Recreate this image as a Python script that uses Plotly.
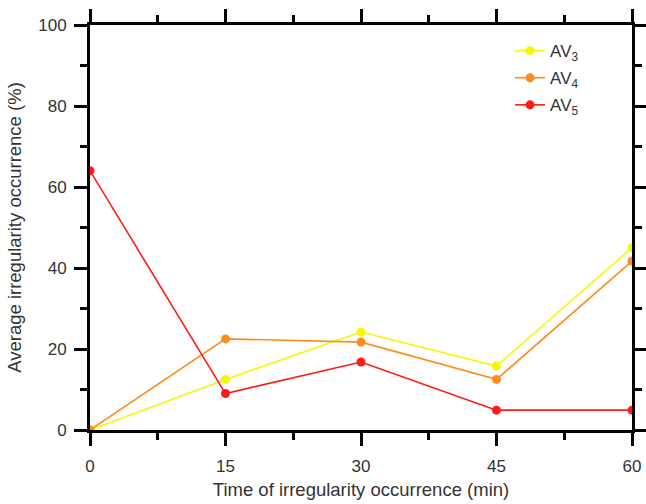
import plotly.graph_objects as go

time_min = [0, 15, 30, 45, 60]
av3 = [0, 12.5, 24.2, 15.8, 45.0]
av4 = [0, 22.5, 21.7, 12.5, 41.7]
av5 = [64.0, 9.0, 16.8, 4.9, 4.9]

series = [
    ("AV<sub>3</sub>", av3, "#F7F700"),
    ("AV<sub>4</sub>", av4, "#FF8C1F"),
    ("AV<sub>5</sub>", av5, "#FF1A1A"),
]

FONT = "Liberation Sans, Arial, sans-serif"

fig = go.Figure()
for name, vals, col in series:
    fig.add_trace(go.Scatter(
        x=time_min, y=vals, name=name, mode="lines+markers", legendgroup=name,
        line=dict(color=col, width=1.6),
        marker=dict(color=col, size=9, line=dict(color=col, width=0)),
    ))

axis_common = dict(
    showline=True, linecolor="black", linewidth=3, mirror="ticks",
    ticks="outside", ticklen=13, tickwidth=3, tickcolor="black",
    showgrid=False, zeroline=False, automargin=False,
    tickfont=dict(family=FONT, size=17, color="#333333"),
)

fig.update_xaxes(
    range=[0, 60], tickvals=[0, 15, 30, 45, 60],
    minor=dict(tickvals=[7.5, 22.5, 37.5, 52.5], ticklen=7, tickwidth=3, tickcolor="black", ticks="outside"),
    ticklabelstandoff=6,
    title=dict(text="Time of irregularity occurrence (min)",
               font=dict(family=FONT, size=18.5, color="#333333"),
               standoff=8),
    **axis_common,
)
fig.update_yaxes(
    range=[0, 100], tickvals=[0, 20, 40, 60, 80, 100],
    minor=dict(tickvals=[10, 30, 50, 70, 90], ticklen=7, tickwidth=3, tickcolor="black", ticks="outside"),
    ticklabelstandoff=4,
    title=dict(text="Average irregularity occurrence (%)",
               font=dict(family=FONT, size=18.5, color="#333333"),
               standoff=12),
    **axis_common,
)

fig.update_layout(
    width=646, height=504,
    margin=dict(l=90, r=14, t=25, b=74),
    plot_bgcolor="white", paper_bgcolor="white",
    legend=dict(x=0.775, y=0.98, xanchor="left", yanchor="top",
                bgcolor="rgba(0,0,0,0)",
                font=dict(family=FONT, size=17, color="#333333"),
                tracegroupgap=2),
    font=dict(family=FONT),
)

fig.write_html("out.html")
